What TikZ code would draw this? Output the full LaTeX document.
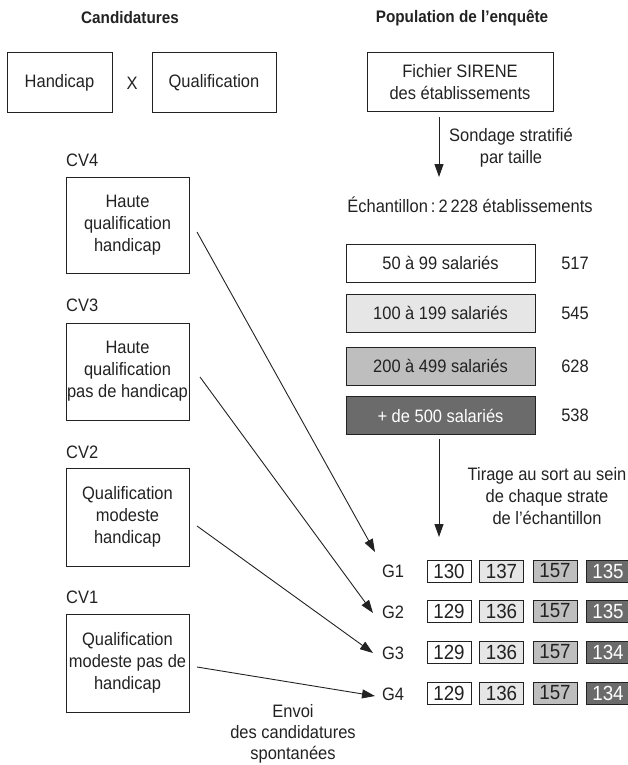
\documentclass[tikz,border=0pt]{standalone}
\usepackage{fontspec}
\setmainfont{Liberation Sans}[FakeStretch=0.915]
\usetikzlibrary{arrows.meta}
\definecolor{ink}{HTML}{222222}
\definecolor{gA}{HTML}{FFFFFF}
\definecolor{gB}{HTML}{E6E6E6}
\definecolor{gC}{HTML}{BEBEBE}
\definecolor{gD}{HTML}{6B6B6B}
\begin{document}
\begin{tikzpicture}[x=1pt,y=-1pt,
  every node/.style={text=ink},
  font=\fontsize{18}{22}\selectfont,
  hdr/.style={font=\bfseries\fontsize{16.7}{19}\selectfont},
  box/.style={draw=ink, line width=1pt, align=center, inner sep=0pt},
  lbl/.style={align=center, inner sep=0pt},
  arr/.style={draw=ink, line width=0.9pt, -{Triangle[length=13pt,width=9pt]}},
  strat/.style={draw=ink, line width=1pt, minimum width=189pt, minimum height=38pt, inner sep=0pt},
  sbox/.style={draw=ink, line width=1pt, minimum width=44pt, minimum height=22pt, inner sep=0pt, font=\fontsize{20.5}{22}\selectfont},
  cvbox/.style={box, minimum width=123pt},
]
\useasboundingbox (0,0) rectangle (628,765);
\clip (0,0) rectangle (628,765);

% headers
\node[hdr] (hl) at (130,18) {Candidatures};
\node[hdr] (hr) at (462,18) {Population de l’enquête};

% top-left boxes
\node[box, minimum width=105pt, minimum height=60pt] (handi) at (59.5,83) {Handicap};
\node (cross) at (132,83) {X};
\node[box, minimum width=124pt, minimum height=60pt] (qualif) at (214,83) {Qualification};

% SIRENE
\node[box, minimum width=186pt, minimum height=59pt] (sirene) at (460,82.5) {Fichier SIRENE\\des établissements};
\coordinate (v1a) at (439,117);
\coordinate (v1b) at (439,177);
\draw[arr] (v1a) -- (v1b);
\node[lbl] (sond) at (511,148) {Sondage stratifié\\par taille};
\node (echant) at (470,205) {Échantillon\,:\,2\,228 établissements};

% strata
\node[strat, fill=gA] (st1) at (440.5,263) {50 à 99 salariés};
\node[strat, fill=gB] (st2) at (440.5,313) {100 à 199 salariés};
\node[strat, fill=gC] (st3) at (440.5,366) {200 à 499 salariés};
\node[strat, fill=gD, text=white] (st4) at (440.5,415.5) {+ de 500 salariés};
\node (n1) at (575,263) {517};
\node (n2) at (575,313) {545};
\node (n3) at (575,366) {628};
\node (n4) at (575,415.5) {538};

\coordinate (v2b) at (439,537);
\draw[arr] ([yshift=-4pt]st4.south -| v2b) -- (v2b);
\node[lbl] (tir) at (547,496) {Tirage au sort au sein\\de chaque strate\\de l’échantillon};

% CV labels and boxes
\node[anchor=west, inner sep=0pt] (l4) at (66,160) {CV4};
\node[cvbox, minimum height=96pt] (cv4) at (127.5,225) {Haute\\qualification\\handicap};
\node[anchor=west, inner sep=0pt] (l3) at (66,305) {CV3};
\node[cvbox, minimum height=97pt] (cv3) at (127.5,371.5) {Haute\\qualification\\pas de handicap};
\node[anchor=west, inner sep=0pt] (l2) at (66,452) {CV2};
\node[cvbox, minimum height=98pt] (cv2) at (127.5,517) {Qualification\\modeste\\handicap};
\node[anchor=west, inner sep=0pt] (l1) at (66,597) {CV1};
\node[cvbox, minimum height=98pt] (cv1) at (127.5,663) {Qualification\\modeste pas de\\handicap};

% G rows
\node (g1) at (393,571) {G1};
\node (g2) at (393,612) {G2};
\node (g3) at (393,653) {G3};
\node (g4) at (393,694) {G4};

\foreach \r/\y/\a/\b/\c/\d in {1/571/130/137/157/135, 2/611/129/136/157/135, 3/652/129/136/157/134, 4/693/129/136/157/134}{
  \node[sbox, fill=gA] (b\r a) at (449,\y) {\a};
  \node[sbox, fill=gB] (b\r b) at (501.5,\y) {\b};
  \node[sbox, fill=gC] (b\r c) at (555,\y) {\c};
  \node[sbox, fill=gD, text=white] (b\r d) at (608,\y) {\d};
}

% connectors CV -> G
\coordinate (s4) at (197,232);
\coordinate (s3) at (200,377);
\coordinate (s2) at (197,526);
\coordinate (s1) at (197,667);
\coordinate (e1) at (375,552);
\coordinate (e2) at (373,613);
\coordinate (e3) at (373,653);
\coordinate (e4) at (375,696);
\draw[arr] (s4) -- (e1);
\draw[arr] (s3) -- (e2);
\draw[arr] (s2) -- (e3);
\draw[arr] (s1) -- (e4);

\node[lbl, font=\fontsize{18}{21}\selectfont] (envoi) at (293,734) {Envoi\\des candidatures\\spontanées};
\end{tikzpicture}
\end{document}
